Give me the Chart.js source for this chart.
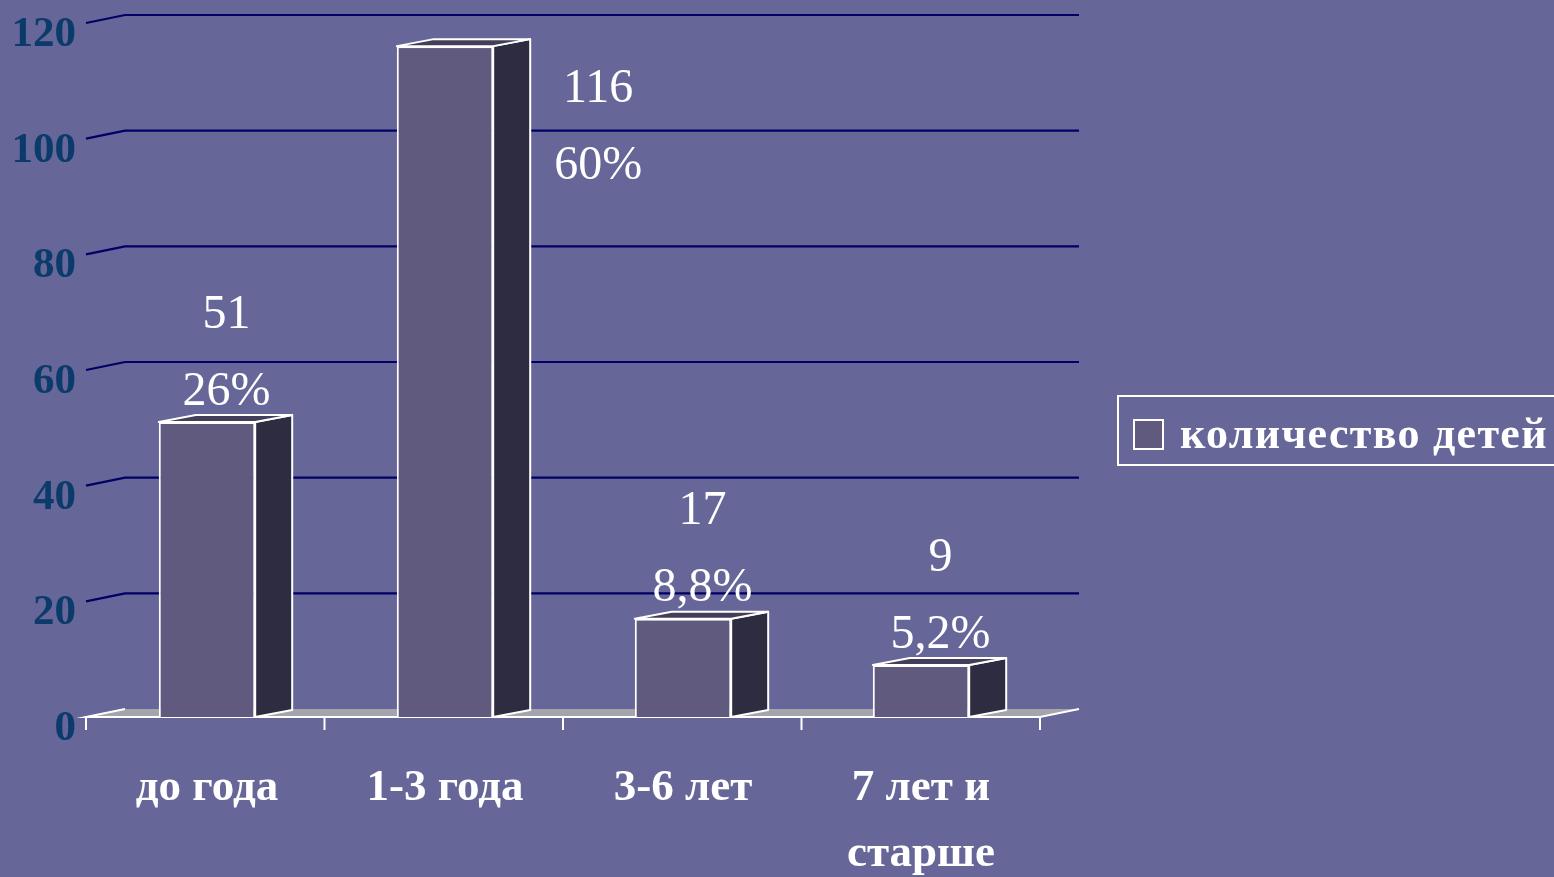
<!DOCTYPE html>
<html><head><meta charset="utf-8">
<script src="https://cdn.jsdelivr.net/npm/chart.js@4"></script>
<style>html,body{margin:0;padding:0;background:#666699;overflow:hidden}#wrap{width:1554px;height:877px}</style>
</head><body><div id="wrap"><canvas id="c" width="1554" height="877"></canvas></div>
<script>
// ---- data ----
const categories = [['до года'], ['1-3 года'], ['3-6 лет'], ['7 лет и', 'старше']];
const seriesName = 'количество детей';
const counts = [51, 116, 17, 9];
const countLabels = ['51', '116', '17', '9'];
const percentLabels = ['26%', '60%', '8,8%', '5,2%'];
const yMin = 0, yMax = 120, yStep = 20;

// ---- styles ----
const BG = '#666699';
const FRONT = '#5f5a7e';
const SIDE = '#2e2c40';
const TOP = '#433f5a';
const GRID = '#000066';
const TICKCOL = '#0b3b6b';
const SERIF = "'Liberation Serif', 'Times New Roman', serif";
const BAR_DX = 37, BAR_DY = -7;
const WALL_DX = 39, WALL_DY = -8;

const bgPlugin = {
  id: 'bg',
  beforeDraw(chart) {
    const ctx = chart.ctx;
    ctx.save();
    ctx.fillStyle = BG;
    ctx.fillRect(0, 0, chart.width, chart.height);
    ctx.restore();
  }
};

const wallPlugin = {
  id: 'wall',
  beforeDatasetsDraw(chart) {
    const ctx = chart.ctx, ca = chart.chartArea, ys = chart.scales.y;
    const y0 = ys.getPixelForValue(0);
    ctx.save();
    ctx.beginPath();
    ctx.moveTo(ca.left - 2, y0);
    ctx.lineTo(ca.left - 2 + WALL_DX, y0 + WALL_DY);
    ctx.lineTo(ca.right + WALL_DX, y0 + WALL_DY);
    ctx.lineTo(ca.right, y0);
    ctx.closePath();
    ctx.fillStyle = '#a4a4ac';
    ctx.fill();
    ctx.strokeStyle = '#ffffff';
    ctx.lineWidth = 2;
    ctx.beginPath();
    ctx.moveTo(ca.left - 2 + WALL_DX, y0 + WALL_DY);
    ctx.lineTo(ca.left - 2, y0);
    ctx.lineTo(ca.right, y0);
    ctx.lineTo(ca.right + WALL_DX, y0 + WALL_DY);
    ctx.stroke();
    const n = categories.length;
    for (let i = 0; i <= n; i++) {
      const x = ca.left - 2 + i * (ca.right - ca.left + 2) / n;
      ctx.beginPath();
      ctx.moveTo(x, y0);
      ctx.lineTo(x, y0 + 13);
      ctx.stroke();
    }
    ctx.strokeStyle = GRID;
    ctx.lineWidth = 2.2;
    for (let v = yMin + yStep; v <= yMax; v += yStep) {
      const y = ys.getPixelForValue(v);
      ctx.beginPath();
      ctx.moveTo(ca.left - 2, y);
      ctx.lineTo(ca.left - 2 + WALL_DX, y + WALL_DY);
      ctx.lineTo(ca.right + WALL_DX, y + WALL_DY);
      ctx.stroke();
    }
    ctx.restore();
  }
};

const bar3dPlugin = {
  id: 'bar3d',
  afterDatasetsDraw(chart) {
    const ctx = chart.ctx;
    const meta = chart.getDatasetMeta(0);
    ctx.save();
    ctx.lineWidth = 2;
    ctx.strokeStyle = '#ffffff';
    ctx.lineJoin = 'round';
    meta.data.forEach((el) => {
      const left = el.x - el.width / 2, right = el.x + el.width / 2;
      const top = el.y, base = el.base;
      ctx.beginPath();
      ctx.moveTo(right, top);
      ctx.lineTo(right + BAR_DX, top + BAR_DY);
      ctx.lineTo(right + BAR_DX, base + BAR_DY);
      ctx.lineTo(right, base);
      ctx.closePath();
      ctx.fillStyle = SIDE;
      ctx.fill();
      ctx.stroke();
      ctx.beginPath();
      ctx.moveTo(left, top);
      ctx.lineTo(left + BAR_DX, top + BAR_DY);
      ctx.lineTo(right + BAR_DX, top + BAR_DY);
      ctx.lineTo(right, top);
      ctx.closePath();
      ctx.fillStyle = TOP;
      ctx.fill();
      ctx.stroke();
    });
    ctx.fillStyle = '#ffffff';
    ctx.font = '48px ' + SERIF;
    ctx.textAlign = 'center';
    ctx.textBaseline = 'middle';
    meta.data.forEach((el, i) => {
      const top = el.y;
      let cx, y1, y2;
      if (top - 110 < chart.chartArea.top) {
        cx = el.x + el.width / 2 + BAR_DX + 68;
        y1 = top + 43; y2 = top + 120;
      } else {
        cx = el.x + BAR_DX / 2 + 1;
        y1 = top - 107; y2 = top - 30;
      }
      ctx.fillText(countLabels[i], cx, y1);
      ctx.fillText(percentLabels[i], cx, y2);
    });
    ctx.restore();
  }
};

const legendPlugin = {
  id: 'legend3d',
  afterDraw(chart) {
    const ctx = chart.ctx;
    const ds = chart.data.datasets[0];
    ctx.save();
    ctx.strokeStyle = '#ffffff';
    ctx.lineWidth = 2;
    ctx.strokeRect(1118, 396, 460, 69);
    ctx.fillStyle = ds.backgroundColor;
    ctx.fillRect(1134, 420, 29, 29);
    ctx.strokeRect(1134, 420, 29, 29);
    ctx.fillStyle = '#ffffff';
    ctx.font = 'bold 44px ' + SERIF;
    ctx.letterSpacing = '1.3px';
    ctx.textAlign = 'left';
    ctx.textBaseline = 'middle';
    ctx.fillText(ds.label, 1180, 437);
    ctx.restore();
  }
};

new Chart(document.getElementById('c'), {
  type: 'bar',
  data: {
    labels: categories,
    datasets: [{
      label: seriesName,
      data: counts,
      backgroundColor: FRONT,
      borderColor: '#ffffff',
      borderWidth: 2,
      barPercentage: 0.405,
      categoryPercentage: 1.0
    }]
  },
  options: {
    responsive: false,
    animation: false,
    devicePixelRatio: 1,
    layout: { padding: { top: 23, right: 514, left: 0, bottom: 0 } },
    plugins: { legend: { display: false }, tooltip: { enabled: false } },
    scales: {
      x: {
        grid: { display: false, drawTicks: false },
        border: { display: false },
        afterFit(s) { s.height = 160; },
        ticks: {
          color: '#ffffff',
          padding: 39,
          maxRotation: 0,
          autoSkip: false,
          font: { family: SERIF, size: 45, weight: 'bold', lineHeight: 1.45 }
        }
      },
      y: {
        min: yMin, max: yMax,
        grid: { display: false, drawTicks: false },
        border: { display: false },
        afterFit(s) { s.width = 88; },
        ticks: {
          stepSize: yStep,
          color: TICKCOL,
          padding: 12,
          labelOffset: 12,
          font: { family: SERIF, size: 43, weight: 'bold', lineHeight: 0.4 }
        }
      }
    }
  },
  plugins: [bgPlugin, wallPlugin, bar3dPlugin, legendPlugin]
});
</script>
</body></html>
